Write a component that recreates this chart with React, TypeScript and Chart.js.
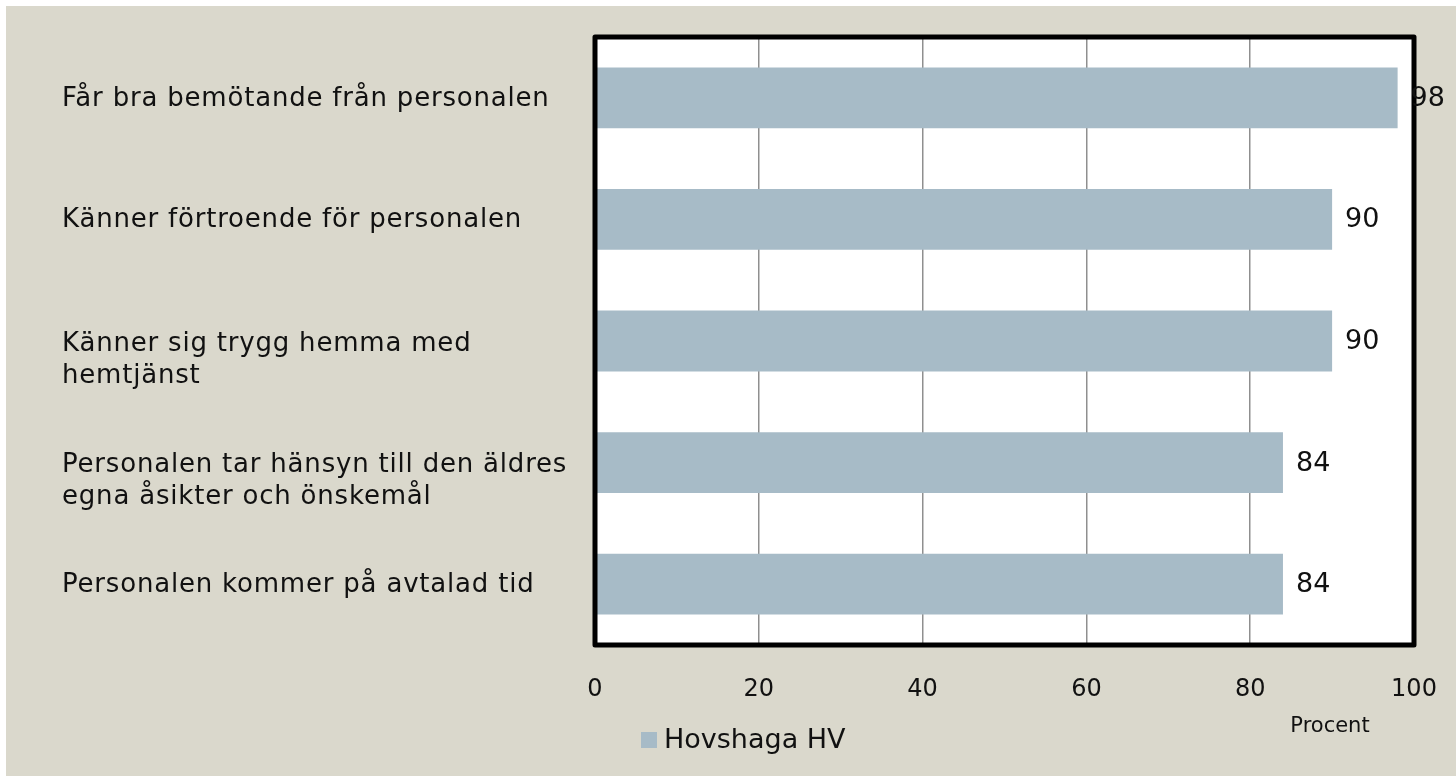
import React, { useEffect, useRef } from "react";
import { Chart, registerables } from "chart.js";

Chart.register(...registerables);

const categories: string[][] = [
  ["Får bra bemötande från personalen"],
  ["Känner förtroende för personalen"],
  ["Känner sig trygg hemma med", "hemtjänst"],
  ["Personalen tar hänsyn till den äldres", "egna åsikter och önskemål"],
  ["Personalen kommer på avtalad tid"],
];
const seriesName = "Hovshaga HV";
const values: number[] = [98, 90, 90, 84, 84];
const xTicks: number[] = [0, 20, 40, 60, 80, 100];
const axisTitle = "Procent";

const FONT = "'DejaVu Sans', sans-serif";
const BAR = "#a7bbc7";
const BG = "#dad8cc";

const customPlugin = {
  id: "custom",
  beforeDraw(chart: any) {
    const { ctx, chartArea: a } = chart;
    ctx.save();
    ctx.fillStyle = BG;
    ctx.fillRect(0, 0, chart.width, chart.height);
    ctx.fillStyle = "#ffffff";
    ctx.fillRect(a.left, a.top, a.right - a.left, a.bottom - a.top);
    ctx.restore();
  },
  afterDraw(chart: any) {
    const { ctx, chartArea: a } = chart;
    const yScale = chart.scales.y;
    const xScale = chart.scales.x;
    ctx.save();
    // border
    ctx.strokeStyle = "#000";
    ctx.lineWidth = 5;
    ctx.lineJoin = "round";
    ctx.strokeRect(a.left, a.top, a.right - a.left, a.bottom - a.top);
    // category labels
    ctx.fillStyle = "#111";
    ctx.font = `26px ${FONT}`;
    (ctx as any).letterSpacing = "0.8px";
    ctx.textAlign = "left";
    ctx.textBaseline = "middle";
    categories.forEach((lines, i) => {
      const yc = yScale.getPixelForValue(i);
      const off = lines.length > 1 ? 3 : 1;
      lines.forEach((ln, j) => {
        ctx.fillText(ln, 56, yc + off + j * 32);
      });
    });
    (ctx as any).letterSpacing = "0px";
    // data labels
    ctx.font = `27px ${FONT}`;
    const meta = chart.getDatasetMeta(0);
    meta.data.forEach((bar: any, i: number) => {
      ctx.fillText(String(values[i]), xScale.getPixelForValue(values[i]) + 13, bar.y + 1);
    });
    // axis title
    ctx.font = `21px ${FONT}`;
    ctx.textAlign = "center";
    ctx.fillText(axisTitle, 1324, 721);
    // legend
    ctx.fillStyle = BAR;
    ctx.fillRect(635, 726, 16, 16);
    ctx.fillStyle = "#111";
    ctx.font = `27px ${FONT}`;
    ctx.textAlign = "left";
    ctx.fillText(seriesName, 658, 735);
    ctx.restore();
  },
};

export default function App() {
  const ref = useRef<HTMLCanvasElement>(null);
  useEffect(() => {
    if (!ref.current) return;
    const chart = new Chart(ref.current, {
      type: "bar",
      data: {
        labels: categories.map((c) => c.join(" ")),
        datasets: [
          {
            label: seriesName,
            data: values,
            backgroundColor: BAR,
            borderWidth: 0,
            barPercentage: 0.5,
            categoryPercentage: 1,
          },
        ],
      },
      options: {
        indexAxis: "y",
        animation: false,
        responsive: false,
        layout: { padding: { left: 0, right: 42, top: 31, bottom: 0 } },
        plugins: { legend: { display: false }, tooltip: { enabled: false } },
        scales: {
          x: {
            min: 0,
            max: 100,
            afterBuildTicks: (s: any) => {
              s.ticks = xTicks.map((v) => ({ value: v }));
            },
            afterFit: (s: any) => {
              s.height = 131;
              s.paddingLeft = 0;
              s.paddingRight = 0;
            },
            grid: { color: "#8f8f8f", lineWidth: 1.5, drawTicks: false },
            border: { display: false },
            ticks: { color: "#111", font: { family: FONT, size: 24 }, padding: 30, maxRotation: 0 },
          },
          y: {
            afterFit: (s: any) => {
              s.width = 589;
            },
            grid: { display: false },
            border: { display: false },
            ticks: { display: false },
          },
        },
      },
      plugins: [customPlugin],
    });
    return () => chart.destroy();
  }, []);
  return (
    <div style={{ position: "absolute", left: 6, top: 6, width: 1450, height: 770, background: BG }}>
      <canvas ref={ref} width={1450} height={770} style={{ display: "block" }} />
    </div>
  );
}
